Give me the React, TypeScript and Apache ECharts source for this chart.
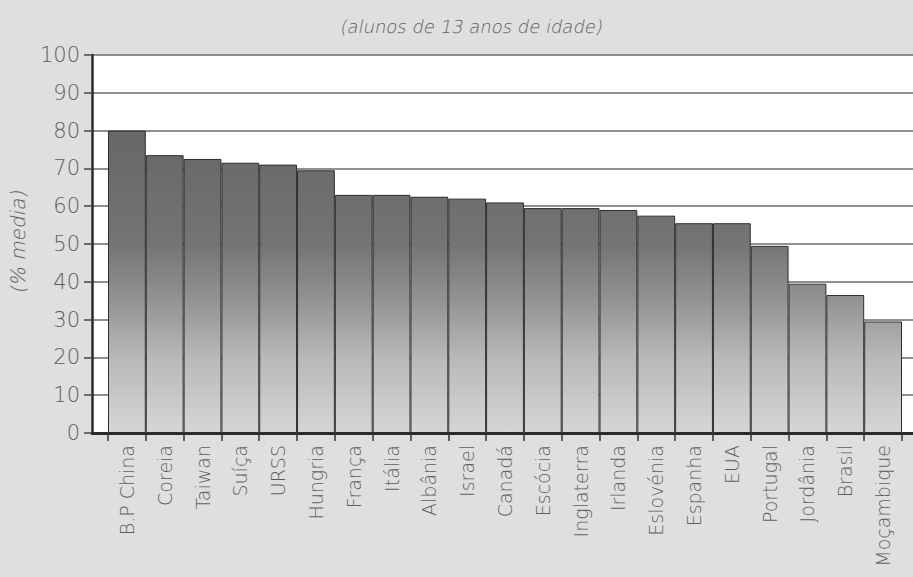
import React, { useEffect, useRef } from "react";
import * as echarts from "echarts";

const categories = [
  "B.P China", "Coreia", "Taiwan", "Suíça", "URSS", "Hungria", "França", "Itália",
  "Albânia", "Israel", "Canadá", "Escócia", "Inglaterra", "Irlanda", "Eslovénia",
  "Espanha", "EUA", "Portugal", "Jordânia", "Brasil", "Moçambique",
];
const values = [
  80, 73.5, 72.5, 71.5, 71, 69.5, 63, 63, 62.5, 62, 61, 59.5, 59.5, 59, 57.5,
  55.5, 55.5, 49.5, 39.5, 36.5, 29.5,
];
const yTicks = { min: 0, max: 100, interval: 10 };
const titleText = "(alunos de 13 anos de idade)";
const yName = "(% media)";

const FONT = "'DejaVu Sans', 'Noto Sans', sans-serif";
const TEXT_COLOR = "#5e5e5e";

export default function App() {
  const ref = useRef<HTMLDivElement>(null);
  useEffect(() => {
    if (!ref.current) return;
    const chart = echarts.init(ref.current, null, { renderer: "svg" });
    const barFill = new echarts.graphic.LinearGradient(
      0, 55, 0, 433,
      [
        { offset: 0, color: "#5e5e5e" },
        { offset: 0.5, color: "#747474" },
        { offset: 0.65, color: "#939393" },
        { offset: 0.8, color: "#b8b8b8" },
        { offset: 1, color: "#d6d6d6" },
      ],
      true
    );
    chart.setOption({
      animation: false,
      backgroundColor: "#dfdfdf",
      grid: [
        { left: 92, right: 0, top: 55, bottom: 144, show: true, backgroundColor: "#ffffff", borderWidth: 0 },
        { left: 108, right: 11, top: 55, bottom: 144 },
      ],
      xAxis: [
        {
          type: "value", gridIndex: 0, min: 0, max: 1,
          axisLine: { show: true, onZero: false, lineStyle: { color: "#2a2a2a", width: 3 } },
          axisTick: { show: false }, axisLabel: { show: false }, splitLine: { show: false },
        },
        {
          type: "category", gridIndex: 1, data: categories,
          axisLine: { show: false },
          axisTick: { show: true, length: 8, alignWithLabel: false, lineStyle: { color: "#333", width: 1.5 } },
          axisLabel: {
            rotate: 90, margin: 12, color: TEXT_COLOR, fontSize: 19, fontWeight: 200,
            fontFamily: FONT, interval: 0,
          },
        },
      ],
      yAxis: [
        {
          type: "value", gridIndex: 0, ...yTicks,
          axisLine: { show: true, lineStyle: { color: "#2a2a2a", width: 2.5 } },
          axisTick: { show: true, length: 8, lineStyle: { color: "#444", width: 1.5 } },
          axisLabel: { margin: 12, color: TEXT_COLOR, fontSize: 21, fontWeight: 200, fontFamily: FONT },
          splitLine: { show: true, lineStyle: { color: "#6a6a6a", width: 1.5 } },
        },
        {
          type: "value", gridIndex: 1, ...yTicks, show: false, splitLine: { show: false },
        },
      ],
      series: [
        {
          type: "bar", xAxisIndex: 1, yAxisIndex: 1, data: values,
          barWidth: "100%", barCategoryGap: 0,
          itemStyle: { color: barFill, borderColor: "#2e2e2e", borderWidth: 1 },
        },
      ],
      graphic: [
        {
          type: "text", x: 472, y: 27, skewX: -0.2,
          style: {
            text: titleText, textAlign: "center", textVerticalAlign: "middle",
            font: `normal 200 18px ${FONT}`, fill: TEXT_COLOR,
          },
        },
        {
          type: "text", x: 18, y: 241, rotation: Math.PI / 2, skewX: -0.2,
          style: {
            text: yName, textAlign: "center", textVerticalAlign: "middle",
            font: `normal 200 20px ${FONT}`, fill: TEXT_COLOR,
          },
        },
      ],
    });
    return () => chart.dispose();
  }, []);
  return (
    <div
      ref={ref}
      style={{ position: "fixed", left: 0, top: 0, width: 913, height: 577 }}
    />
  );
}
